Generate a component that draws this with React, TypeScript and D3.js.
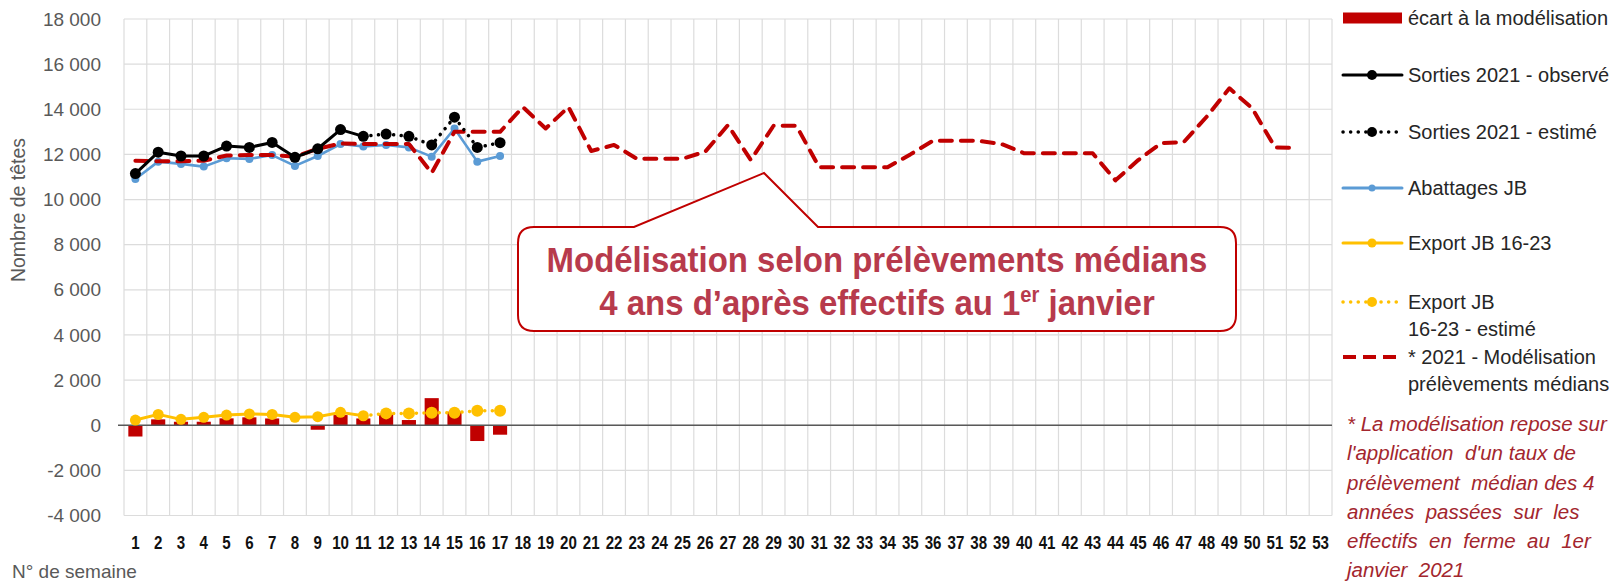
// App.tsx
import React, { useRef, useEffect } from "react";
import * as d3 from "d3";

const W = 1624;
const H = 586;
const FONT = "'Liberation Sans', Arial, sans-serif";

// week numbers shown on the x axis
const weeks = [
  1, 2, 3, 4, 5, 6, 7, 8, 9, 10, 11, 12, 13, 14, 15, 16, 17, 18, 19, 20, 21,
  22, 23, 24, 25, 26, 27, 28, 29, 30, 31, 32, 33, 34, 35, 36, 37, 38, 39, 40,
  41, 42, 43, 44, 45, 46, 47, 48, 49, 50, 51, 52, 53,
];

const yTicks = [-4000, -2000, 0, 2000, 4000, 6000, 8000, 10000, 12000, 14000, 16000, 18000];

// écart à la modélisation (weeks 1-17)
const ecart = [-500, 260, 155, 155, 305, 350, 300, 0, -200, 450, 300, 480, 230, 1200, 600, -700, -420];

// Sorties 2021 - observé (weeks 1-11)
const sortiesObs = [11150, 12100, 11930, 11930, 12370, 12310, 12530, 11870, 12250, 13100, 12800];
// Sorties 2021 - estimé (weeks 12-17)
const sortiesEst = [12900, 12800, 12420, 13650, 12310, 12520];

// Abattages JB (weeks 1-17)
const abattages = [10910, 11680, 11580, 11460, 11830, 11800, 11970, 11490, 11930, 12460, 12350, 12420, 12310, 11900, 13150, 11680, 11930];

// Export JB 16-23 (weeks 1-11) and estimé (weeks 12-17)
const exportObs = [230, 480, 260, 350, 450, 500, 480, 350, 380, 570, 420];
const exportEst = [525, 525, 555, 555, 640, 640];

// * 2021 - Modélisation prélèvements médians (weeks 1-52)
const modele = [
  11720, 11700, 11700, 11720, 11950, 11970, 11970, 11900, 12250, 12480,
  12460, 12460, 12460, 11180, 13000, 13000, 13000, 14100, 13150, 14100,
  12150, 12420, 11810, 11810, 11810, 12120, 13300, 11750, 13270, 13270,
  11430, 11430, 11430, 11430, 12000, 12610, 12610, 12600, 12460, 12050,
  12050, 12050, 12050, 10850, 11750, 12500, 12550, 13670, 14930, 14040,
  12310, 12290,
];

const legendItems = [
  { label: ["écart à la modélisation"], kind: "bar", color: "#c00000" },
  { label: ["Sorties 2021 - observé"], kind: "solid", color: "#000000", r: 5 },
  { label: ["Sorties 2021 - estimé"], kind: "dotted", color: "#000000", r: 5 },
  { label: ["Abattages JB"], kind: "solid", color: "#5b9bd5", r: 3.5 },
  { label: ["Export JB 16-23"], kind: "solid", color: "#ffc000", r: 4.5 },
  { label: ["Export JB", "16-23 - estimé"], kind: "dotted", color: "#ffc000", r: 5 },
  { label: ["* 2021 - Modélisation", "prélèvements médians"], kind: "dashed", color: "#c00000" },
];
const legendY = [18, 75, 132, 188, 243, 302, 357];

const footnote = [
  "* La modélisation repose sur",
  "l'application  d'un taux de",
  "prélèvement  médian des 4",
  "années  passées  sur  les",
  "effectifs  en  ferme  au  1er",
  "janvier  2021",
];

export default function App() {
  const svgRef = useRef<SVGSVGElement>(null);

  useEffect(() => {
    const svg = d3.select(svgRef.current);
    svg.selectAll("*").remove();

    const x = d3
      .scaleBand<string>()
      .domain(weeks.map(String))
      .range([124, 1332]);
    const xc = (w: number) => (x(String(w)) as number) + x.bandwidth() / 2;
    const y = d3.scaleLinear().domain([-4000, 18000]).range([515.5, 19]);

    const locale = d3.formatLocale({
      decimal: ",",
      thousands: " ",
      grouping: [3],
      currency: ["", ""],
      minus: "-",
    });
    const fmt = locale.format(",");

    const g = svg.append("g").attr("font-family", FONT);

    // grid
    g.append("g")
      .selectAll("line")
      .data(yTicks)
      .join("line")
      .attr("x1", 124)
      .attr("x2", 1332)
      .attr("y1", (d) => y(d))
      .attr("y2", (d) => y(d))
      .attr("stroke", "#dcdcdc")
      .attr("stroke-width", 1.2);

    g.append("g")
      .selectAll("line")
      .data([...weeks.map((w) => x(String(w)) as number), 1332])
      .join("line")
      .attr("x1", (d) => d)
      .attr("x2", (d) => d)
      .attr("y1", y(18000))
      .attr("y2", y(-4000))
      .attr("stroke", "#dcdcdc")
      .attr("stroke-width", 1.2);

    // y axis labels
    g.append("g")
      .selectAll("text")
      .data(yTicks)
      .join("text")
      .attr("x", 101)
      .attr("y", (d) => y(d))
      .attr("dy", "0.35em")
      .attr("text-anchor", "end")
      .attr("font-size", 19)
      .attr("fill", "#595959")
      .text((d) => fmt(d));

    // x axis labels (condensed bold)
    g.append("g")
      .selectAll("text")
      .data(weeks)
      .join("text")
      .attr("x", (d) => xc(d))
      .attr("y", 542)
      .attr("dy", "0.36em")
      .attr("text-anchor", "middle")
      .attr("font-size", 18.5)
      .attr("font-weight", "bold")
      .attr("textLength", (d) => String(d).length * 8.4)
      .attr("lengthAdjust", "spacingAndGlyphs")
      .attr("fill", "#111")
      .text((d) => d);

    // axis titles
    g.append("text")
      .attr("transform", `translate(18, 210) rotate(-90)`)
      .attr("text-anchor", "middle")
      .attr("dy", "0.35em")
      .attr("font-size", 19.5)
      .attr("fill", "#595959")
      .text("Nombre de têtes");

    g.append("text")
      .attr("x", 12)
      .attr("y", 578)
      .attr("font-size", 19)
      .attr("fill", "#595959")
      .text("N° de semaine");

    // bars
    const barW = x.bandwidth() * 0.62;
    g.append("g")
      .selectAll("rect")
      .data(ecart)
      .join("rect")
      .attr("x", (d, i) => xc(i + 1) - barW / 2)
      .attr("y", (d) => y(Math.max(0, d)))
      .attr("width", barW)
      .attr("height", (d) => Math.abs(y(d) - y(0)))
      .attr("fill", "#c00000");

    // zero line
    g.append("line")
      .attr("x1", 118)
      .attr("x2", 1332)
      .attr("y1", y(0))
      .attr("y2", y(0))
      .attr("stroke", "#595959")
      .attr("stroke-width", 1.5);

    const line = d3
      .line<[number, number]>()
      .x((d) => xc(d[0]))
      .y((d) => y(d[1]));

    const series = (vals: number[], start: number) =>
      vals.map((v, i) => [start + i, v] as [number, number]);

    const drawLine = (
      pts: [number, number][],
      color: string,
      width: number,
      dash: string | null,
    ) => {
      const p = g
        .append("path")
        .attr("d", line(pts))
        .attr("fill", "none")
        .attr("stroke", color)
        .attr("stroke-width", width)
        .attr("stroke-linejoin", "round")
        .attr("stroke-linecap", "round");
      if (dash) p.attr("stroke-dasharray", dash);
    };

    const drawDots = (pts: [number, number][], color: string, r: number) => {
      g.append("g")
        .selectAll("circle")
        .data(pts)
        .join("circle")
        .attr("cx", (d) => xc(d[0]))
        .attr("cy", (d) => y(d[1]))
        .attr("r", r)
        .attr("fill", color);
    };

    // Abattages JB
    const abat = series(abattages, 1);
    drawLine(abat, "#5b9bd5", 2.6, null);
    drawDots(abat, "#5b9bd5", 4);

    // modélisation
    drawLine(series(modele, 1), "#c00000", 4, "12 9");

    // Sorties
    const sObs = series(sortiesObs, 1);
    const sEst = series(sortiesEst, 12);
    drawLine([sObs[sObs.length - 1], ...sEst], "#000", 3.5, "0.1 7.5");
    drawLine(sObs, "#000", 3, null);
    drawDots(sObs, "#000", 5.5);
    drawDots(sEst, "#000", 5.5);

    // Export
    const eObs = series(exportObs, 1);
    const eEst = series(exportEst, 12);
    drawLine([eObs[eObs.length - 1], ...eEst], "#ffc000", 3.5, "0.1 7.5");
    drawLine(eObs, "#ffc000", 3, null);
    drawDots(eObs, "#ffc000", 5.5);
    drawDots(eEst, "#ffc000", 6);

    // annotation callout
    const bx0 = 518, bx1 = 1236, by0 = 227, by1 = 331, r = 16;
    const callout = [
      `M${bx0 + r},${by0}`,
      `L634,${by0}`,
      `L764,173`,
      `L818,${by0}`,
      `L${bx1 - r},${by0}`,
      `Q${bx1},${by0} ${bx1},${by0 + r}`,
      `L${bx1},${by1 - r}`,
      `Q${bx1},${by1} ${bx1 - r},${by1}`,
      `L${bx0 + r},${by1}`,
      `Q${bx0},${by1} ${bx0},${by1 - r}`,
      `L${bx0},${by0 + r}`,
      `Q${bx0},${by0} ${bx0 + r},${by0}`,
      "Z",
    ].join(" ");
    g.append("path")
      .attr("d", callout)
      .attr("fill", "#fff")
      .attr("stroke", "#c00000")
      .attr("stroke-width", 2);

    const box = g
      .append("g")
      .attr("transform", `translate(${(bx0 + bx1) / 2},0) scale(0.915,1)`)
      .attr("fill", "#b73a4c")
      .attr("font-weight", "bold")
      .attr("font-size", 36)
      .attr("text-anchor", "middle");
    box.append("text").attr("x", 0).attr("y", 272).text("Modélisation selon prélèvements médians");
    const t2 = box.append("text").attr("x", 0).attr("y", 315);
    t2.append("tspan").text("4 ans d’après effectifs au 1");
    t2.append("tspan").attr("dy", -13).attr("font-size", 22).text("er");
    t2.append("tspan").attr("dy", 13).text(" janvier");

    // legend
    const lg = g.append("g");
    legendItems.forEach((item, i) => {
      const ly = legendY[i];
      if (item.kind === "bar") {
        lg.append("rect")
          .attr("x", 1343)
          .attr("y", ly - 5.5)
          .attr("width", 59)
          .attr("height", 11)
          .attr("fill", item.color);
      } else {
        const l = lg
          .append("line")
          .attr("x1", 1343)
          .attr("x2", 1402)
          .attr("y1", ly)
          .attr("y2", ly)
          .attr("stroke", item.color)
          .attr("stroke-linecap", item.kind === "dashed" ? "butt" : "round");
        if (item.kind === "solid") l.attr("stroke-width", 3);
        if (item.kind === "dotted") l.attr("stroke-width", 3.5).attr("stroke-dasharray", "0.1 7.5");
        if (item.kind === "dashed") l.attr("stroke-width", 4).attr("stroke-dasharray", "13 7");
        if (item.r) {
          lg.append("circle")
            .attr("cx", 1372)
            .attr("cy", ly)
            .attr("r", item.r)
            .attr("fill", item.color);
        }
      }
      item.label.forEach((s, j) => {
        lg.append("text")
          .attr("x", 1408)
          .attr("y", ly + j * 26.5)
          .attr("dy", "0.35em")
          .attr("font-size", 20)
          .attr("fill", "#262626")
          .text(s);
      });
    });

    // footnote
    g.append("g")
      .selectAll("text")
      .data(footnote)
      .join("text")
      .attr("x", 1347)
      .attr("y", (d, i) => 424 + i * 29.2)
      .attr("dy", "0.35em")
      .attr("font-size", 20.5)
      .attr("font-style", "italic")
      .attr("fill", "#a3262e")
      .attr("xml:space", "preserve")
      .style("white-space", "pre")
      .text((d) => d);
  }, []);

  return (
    <svg
      ref={svgRef}
      width={W}
      height={H}
      style={{ position: "absolute", left: 0, top: 0, background: "#fff" }}
    />
  );
}
